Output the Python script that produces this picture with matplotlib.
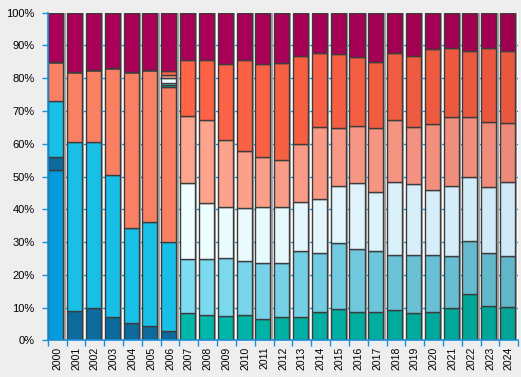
import matplotlib.pyplot as plt
import matplotlib.colors as mcolors
import numpy as np

plt.rcParams['font.family'] = ['Liberation Sans', 'DejaVu Sans']

years = [str(y) for y in range(2000, 2025)]

# shares in percent, bottom to top
bright_blue = [51.9, 0, 0, 0, 0, 0, 0] + [0] * 18
dark_blue = [4.0, 8.9, 9.8, 7.1, 5.2, 4.4, 2.75] + [0] * 18
cyan = [17.1, 51.5, 50.6, 43.4, 29.0, 31.6, 27.15] + [0] * 18
salmon = [11.9, 21.4, 22.0, 32.7, 47.6, 46.6, 47.5] + [0] * 18
teal = [0, 0, 0, 0, 0, 0, 0.4,
        8.2, 7.6, 7.3, 7.6, 6.4, 7.0, 7.0, 8.5, 9.5, 8.5, 8.5, 9.2, 8.2, 8.5, 9.8, 14.0, 10.4, 10.1]
light_blue = [0, 0, 0, 0, 0, 0, 0.6,
              16.5, 17.1, 17.7, 16.5, 17.1, 16.5, 20.2, 18.1, 20.1, 19.3, 18.7, 16.7, 17.7, 17.4, 15.8, 16.2, 16.2, 15.5]
light_cyan = [0, 0, 0, 0, 0, 0, 1.6,
              23.2, 17.1, 15.6, 16.2, 17.1, 17.1, 14.9, 16.4, 17.4, 20.1, 18.0, 22.3, 21.7, 19.9, 21.4, 19.7, 20.1, 22.6]
light_salmon = [0, 0, 0, 0, 0, 0, 0.9,
                20.5, 25.4, 20.4, 17.4, 15.3, 14.3, 17.7, 22.0, 17.7, 17.4, 19.5, 19.0, 17.4, 20.1, 21.1, 18.2, 19.8, 18.0]
orange = [0, 0, 0, 0, 0, 0, 1.2,
          17.1, 18.5, 23.2, 27.8, 28.3, 29.7, 26.9, 22.6, 22.6, 21.1, 20.2, 20.4, 21.7, 22.9, 21.0, 20.1, 22.6, 22.0]
purple = [15.1, 18.2, 17.6, 16.8, 18.2, 17.4, 17.9,
          14.5, 14.3, 15.8, 14.5, 15.8, 15.4, 13.3, 12.4, 12.7, 13.6, 15.1, 12.4, 13.3, 11.2, 10.9, 11.8, 10.9, 11.8]

series = [bright_blue, dark_blue, cyan, salmon, teal, light_blue,
          light_cyan, light_salmon, orange, purple]
# colour at 2007 and at 2024, blended across the years
colors = [('#049CDC', '#049CDC'), ('#0C6A9C', '#0C6A9C'), ('#18C0E8', '#18C0E8'),
          ('#FA8064', '#FA8064'), ('#00B8AA', '#00A596'), ('#7EDCF2', '#62B6CA'),
          ('#EFFFFF', '#CFE9F8'), ('#FFA58E', '#EE8A7A'), ('#FF6446', '#E8573E'),
          ('#AA0058', '#A00050')]

x = np.arange(len(years))
frac = np.clip((x - 7) / 17.0, 0, 1)

fig = plt.figure(figsize=(5.21, 3.77), dpi=100, facecolor='#EEEEEE')
ax = fig.add_axes([0.0916, 0.0973, 0.9032, 0.869])
ax.set_facecolor('white')

blue = '#1A8FD6'
for v in range(10, 100, 10):
    ax.axhline(v, color=blue, lw=1, zorder=0)

# shadows
ax.bar(x + 0.05, [100] * len(x), width=0.8, color='#A8A8A8', zorder=1)

bottom = np.zeros(len(x))
for vals, (c0, c1) in zip(series, colors):
    a = np.array(mcolors.to_rgb(c0))
    b = np.array(mcolors.to_rgb(c1))
    cols = [tuple(a + (b - a) * f) for f in frac]
    vals = np.array(vals)
    ax.bar(x - 0.07, vals, width=0.8, bottom=bottom, color=cols,
           edgecolor='#3C3C3C', linewidth=1.0, zorder=2)
    bottom += vals

ax.set_xlim(-0.5, len(x) - 0.5)
ax.set_ylim(0, 100)
ax.set_yticks(range(0, 101, 10))
ax.set_yticklabels([f'{v}%' for v in range(0, 101, 10)])
ax.set_xticks(x)
ax.set_xticklabels(years, rotation=90)
ax.set_xticks(np.arange(-0.5, len(x)), minor=True)

for s in ['top', 'right']:
    ax.spines[s].set_visible(False)
for s in ['left', 'bottom']:
    ax.spines[s].set_color(blue)
    ax.spines[s].set_linewidth(1.2)
    ax.spines[s].set_zorder(3)

ax.tick_params(axis='y', colors=blue, length=4.5, width=1, pad=5, labelsize=8, labelcolor='black')
ax.tick_params(axis='x', which='major', length=0, pad=4.5, labelsize=7.5, labelcolor='black')
ax.tick_params(axis='x', which='minor', colors=blue, length=4.5, width=1)

fig.savefig('out.png', dpi=100, facecolor=fig.get_facecolor())
